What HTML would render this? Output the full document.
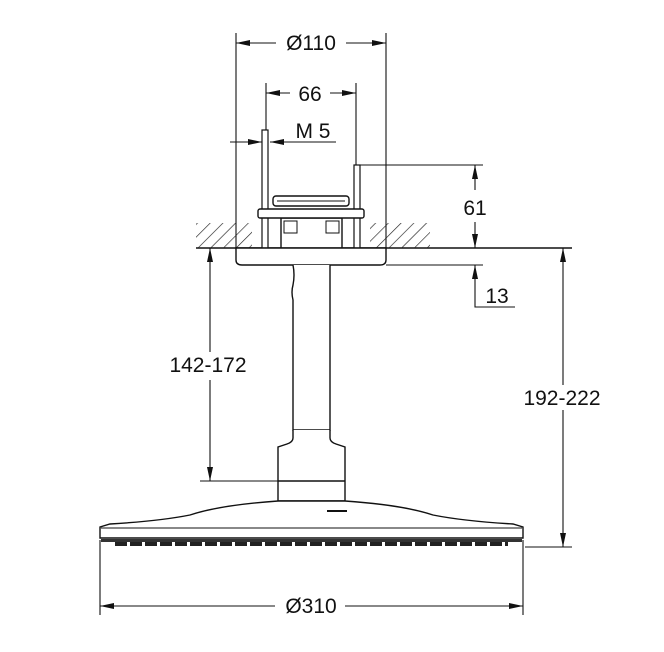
<!DOCTYPE html>
<html><head><meta charset="utf-8"><style>
html,body{margin:0;padding:0;background:#fff;}
svg{display:block;}
text{font-family:"Liberation Sans",Arial,sans-serif;font-size:21px;fill:#111;}
</style></head><body>
<svg width="664" height="652" viewBox="0 0 664 652" xmlns="http://www.w3.org/2000/svg">
<defs>
<marker id="a" markerWidth="14" markerHeight="6" refX="14" refY="3" orient="auto-start-reverse" markerUnits="userSpaceOnUse">
<path d="M0,0 L14,3 L0,6 Z" fill="#111"/></marker>
<pattern id="h" width="9" height="9" patternUnits="userSpaceOnUse" patternTransform="rotate(45)">
<line x1="0" y1="0" x2="0" y2="9" stroke="#222" stroke-width="1.3"/></pattern>
</defs>
<g stroke="#111" stroke-width="1.1" fill="none">
<line x1="236" y1="33" x2="236" y2="250"/>
<line x1="386" y1="33" x2="386" y2="250"/>
<line x1="266" y1="83" x2="266" y2="130"/>
<line x1="356" y1="83" x2="356" y2="165"/>
<line x1="236" y1="43" x2="276" y2="43" marker-start="url(#a)"/>
<line x1="346" y1="43" x2="386" y2="43" marker-end="url(#a)"/>
<line x1="266" y1="93" x2="290" y2="93" marker-start="url(#a)"/>
<line x1="330" y1="93" x2="356" y2="93" marker-end="url(#a)"/>
<line x1="230" y1="142" x2="262" y2="142" marker-end="url(#a)"/>
<line x1="336" y1="142" x2="270" y2="142" marker-end="url(#a)"/>
<line x1="356" y1="165" x2="483" y2="165"/>
<line x1="475" y1="190" x2="475" y2="165" marker-end="url(#a)"/>
<line x1="475" y1="222" x2="475" y2="248" marker-end="url(#a)"/>
<line x1="196" y1="248" x2="572" y2="248" stroke-width="1.4"/>
<line x1="386" y1="265" x2="483" y2="265"/>
<path d="M515,307 L475,307 L475,265" marker-end="url(#a)"/>
<line x1="563" y1="385" x2="563" y2="248" marker-end="url(#a)"/>
<line x1="563" y1="410" x2="563" y2="547" marker-end="url(#a)"/>
<line x1="525" y1="547" x2="572" y2="547"/>
<line x1="210" y1="352" x2="210" y2="248" marker-end="url(#a)"/>
<line x1="210" y1="380" x2="210" y2="481" marker-end="url(#a)"/>
<line x1="200" y1="481" x2="345" y2="481"/>
<line x1="100" y1="540" x2="100" y2="615"/>
<line x1="523" y1="540" x2="523" y2="615"/>
<line x1="100" y1="606" x2="275" y2="606" marker-start="url(#a)"/>
<line x1="345" y1="606" x2="523" y2="606" marker-end="url(#a)"/>
</g>
<rect x="196" y="223" width="56" height="25" fill="url(#h)"/>
<rect x="370" y="223" width="60" height="25" fill="url(#h)"/>
<g stroke="#111" stroke-width="1.4" fill="#fff">
<rect x="262" y="130" width="6" height="118" stroke-width="1.2"/>
<rect x="354" y="165" width="6" height="83" stroke-width="1.2"/>
<rect x="281" y="218" width="61" height="30"/>
<rect x="284" y="221" width="13" height="12" stroke-width="1"/>
<rect x="326" y="221" width="13" height="12" stroke-width="1"/>
<rect x="258" y="209" width="106" height="9" rx="2"/>
<rect x="273" y="196" width="76" height="10" rx="3"/>
<line x1="277" y1="201" x2="345" y2="201" stroke-width="1"/>
<path d="M236,248 L386,248 L386,260 Q386,265 380,265 L242,265 Q236,265 236,260 Z"/>
<path d="M293,265 Q295,275 293,285 Q291,292 293,300 L293,430 L330,430 L330,265" />
<path d="M293,430 L293,438 Q293,442 287,444 L278,447 L278,501 L345,501 L345,447 L336,444 Q330,442 330,438 L330,430"/>
<line x1="278" y1="481" x2="345" y2="481"/>
<path d="M278,501 Q220,505 190,515 Q160,521 110,524 L100,527 L100,538 L523,538 L523,527 L513,524 Q463,521 433,515 Q403,505 345,501 Z"/>
<line x1="101" y1="528" x2="522" y2="528" stroke-width="1"/>
</g>
<rect x="101" y="539" width="421" height="3" fill="#333"/>
<path d="M115,544 L508,544" stroke="#222" stroke-width="4" stroke-dasharray="12,3"/>
<rect x="327" y="510" width="20" height="2" fill="#111"/>
<rect x="278" y="31" width="68" height="24" fill="#fff"/>
<text x="311" y="50" text-anchor="middle">Ø110</text>
<text x="310" y="101" text-anchor="middle">66</text>
<text x="313" y="138" text-anchor="middle">M 5</text>
<rect x="462" y="195" width="26" height="26" fill="#fff"/>
<text x="475" y="215" text-anchor="middle">61</text>
<text x="497" y="303" text-anchor="middle">13</text>
<rect x="163" y="352" width="94" height="26" fill="#fff"/>
<text x="208" y="372" text-anchor="middle">142-172</text>
<rect x="516" y="386" width="94" height="24" fill="#fff"/>
<text x="562" y="405" text-anchor="middle">192-222</text>
<text x="311" y="613" text-anchor="middle">Ø310</text>
</svg>
</body></html>
